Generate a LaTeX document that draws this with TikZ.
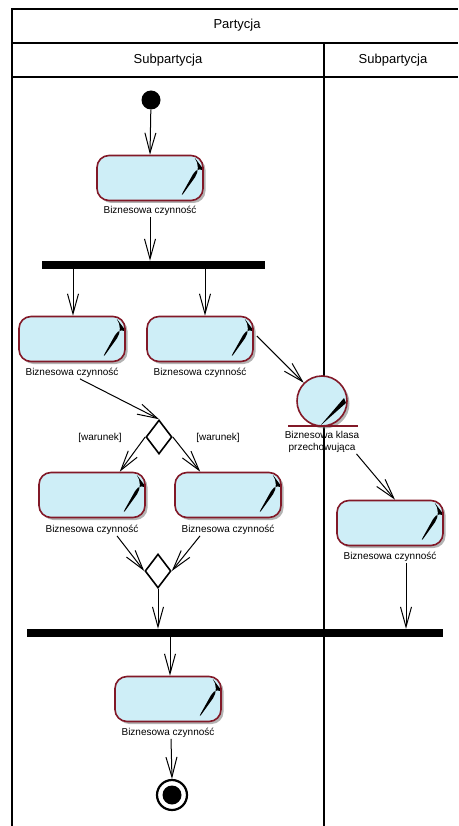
\documentclass[tikz,border=0pt]{standalone}
\usepackage{fontspec}
\setmainfont{Liberation Sans}
\usetikzlibrary{arrows.meta,shadows,calc,shapes.geometric}
\definecolor{actfill}{RGB}{206,238,247}
\definecolor{actborder}{RGB}{130,25,40}
\begin{document}
\begin{tikzpicture}[x=1pt,y=-1pt,
  frame/.style={line width=1.5pt},
  head/.style={font=\fontsize{13}{15}\selectfont},
  lbl/.style={font=\fontsize{10}{12}\selectfont, inner sep=1pt, align=center},
  flow/.style={line width=1pt,-{Straight Barb[length=20pt,width=11pt,line width=1pt]}},
  wedge/.style={black},
  action/.style={draw=actborder, line width=1.6pt, fill=actfill, rounded corners=12pt,
    minimum width=106pt, minimum height=45pt, inner sep=0pt,
    drop shadow={shadow xshift=2.5pt,shadow yshift=-2.5pt,fill=black!50,opacity=0.6},
    path picture={\fill[wedge]
      ($(path picture bounding box.north east)+(-1pt,-12pt)$) --
      ($(path picture bounding box.north east)+(-4pt,-8pt)$) --
      ($(path picture bounding box.south east)+(-25pt,-0.5pt)$) -- cycle;}},
  store/.style={circle, draw=actborder, line width=1.6pt, fill=actfill,
    minimum size=50pt, inner sep=0pt,
    drop shadow={shadow xshift=2.5pt,shadow yshift=-2.5pt,fill=black!50,opacity=0.6},
    path picture={\fill[wedge]
      ($(path picture bounding box.east)+(-1pt,-2pt)$) --
      ($(path picture bounding box.east)+(-3pt,3pt)$) --
      ($(path picture bounding box.south)+(-2pt,0pt)$) -- cycle;}},
  bar/.style={fill=black, inner sep=0pt, minimum height=8pt},
  choice/.style={diamond, draw, line width=1.6pt, fill=white, inner sep=0pt,
    minimum width=26pt, minimum height=34pt}
]
\useasboundingbox (0,0) rectangle (458,826);

% swimlane frame
\draw[frame] (12,826) -- (12,9) -- (458,9);
\draw[frame] (12,43) -- (458,43);
\draw[frame] (12,77) -- (458,77);
\draw[frame] (324,43) -- (324,826);
\node[head] (hpart) at (237,25) {Partycja};
\node[head] (hsub1) at (168,60) {Subpartycja};
\node[head] (hsub2) at (393,60) {Subpartycja};

% initial node
\node[circle, fill=black, minimum size=19pt, inner sep=0pt] (start) at (151,100) {};

% first action
\node[action] (act1) at (150,178) {};
\node[lbl] (lbl1) at (150,211) {Biznesowa czynność};

% fork
\node[bar, minimum width=223pt] (bar1) at (153.5,265) {};

% parallel actions
\node[action] (act2) at (72,339) {};
\node[lbl] (lbl2) at (72,373) {Biznesowa czynność};
\node[action] (act3) at (200,339) {};
\node[lbl] (lbl3) at (200,373) {Biznesowa czynność};

% object store
\node[store] (obj) at (322,401) {};
\draw[actborder, line width=1.8pt] ([xshift=-34pt,yshift=1pt]obj.south) -- ([xshift=36pt,yshift=1pt]obj.south);
\node[lbl] (lblobj) at (322,442) {Biznesowa klasa\\przechowująca};

% decision
\node[choice] (dec1) at (159,437) {};
\node[lbl] (w1) at (100,438) {[warunek]};
\node[lbl] (w2) at (218,438) {[warunek]};

% conditional actions
\node[action] (act4) at (92,495) {};
\node[lbl] (lbl4) at (92,530) {Biznesowa czynność};
\node[action] (act4b) at (228,495) {};
\node[lbl] (lbl4b) at (228,530) {Biznesowa czynność};

% action in second lane
\node[action] (act5) at (390,523) {};
\node[lbl] (lbl5) at (390,557) {Biznesowa czynność};

% merge
\node[choice] (merge) at (158,571) {};

% join
\node[bar, minimum width=416pt] (bar2) at (235,633) {};

% last action and final node
\node[action] (act6) at (168,699) {};
\node[lbl] (lbl6) at (168,733) {Biznesowa czynność};
\node[circle, draw, line width=2.2pt, minimum size=30pt, inner sep=0pt] (final) at (172,795) {};
\node[circle, fill=black, minimum size=19pt, inner sep=0pt] (finalin) at (final.center) {};

% flows
\draw[flow] (start) -- (act1.north);
\draw[flow] (lbl1.south) -- (lbl1.south |- bar1.north);
\coordinate (f2) at ($(act2.north)+(1pt,0pt)$);
\draw[flow] (f2 |- bar1.south) -- (f2);
\coordinate (f3) at ($(act3.north)+(5pt,0pt)$);
\draw[flow] (f3 |- bar1.south) -- (f3);
\draw[flow] ($(act3.east)+(3pt,3pt)$) -- (obj);
\draw[flow] ($(lblobj.south east)+(-4pt,0pt)$) -- ($(act5.north)+(5pt,0pt)$);
\draw[flow] ($(lbl2.south)+(8pt,0pt)$) -- (dec1.north);
\draw[flow] (dec1.west) -- (act4.40);
\draw[flow] (dec1.east) -- (act4b.140);
\draw[flow] ($(lbl4.south)+(25pt,0pt)$) -- (merge.west);
\draw[flow] ($(lbl4b.south)+(-28pt,0pt)$) -- (merge.east);
\draw[flow] (merge.south) -- (merge.south |- bar2.north);
\coordinate (s5) at ($(lbl5.south)+(16pt,0pt)$);
\draw[flow] (s5) -- (s5 |- bar2.north);
\coordinate (f6) at ($(act6.north)+(2pt,0pt)$);
\draw[flow] (f6 |- bar2.south) -- (f6);
\draw[flow] ($(lbl6.south)+(3pt,0pt)$) -- (final.north);
\end{tikzpicture}
\end{document}
